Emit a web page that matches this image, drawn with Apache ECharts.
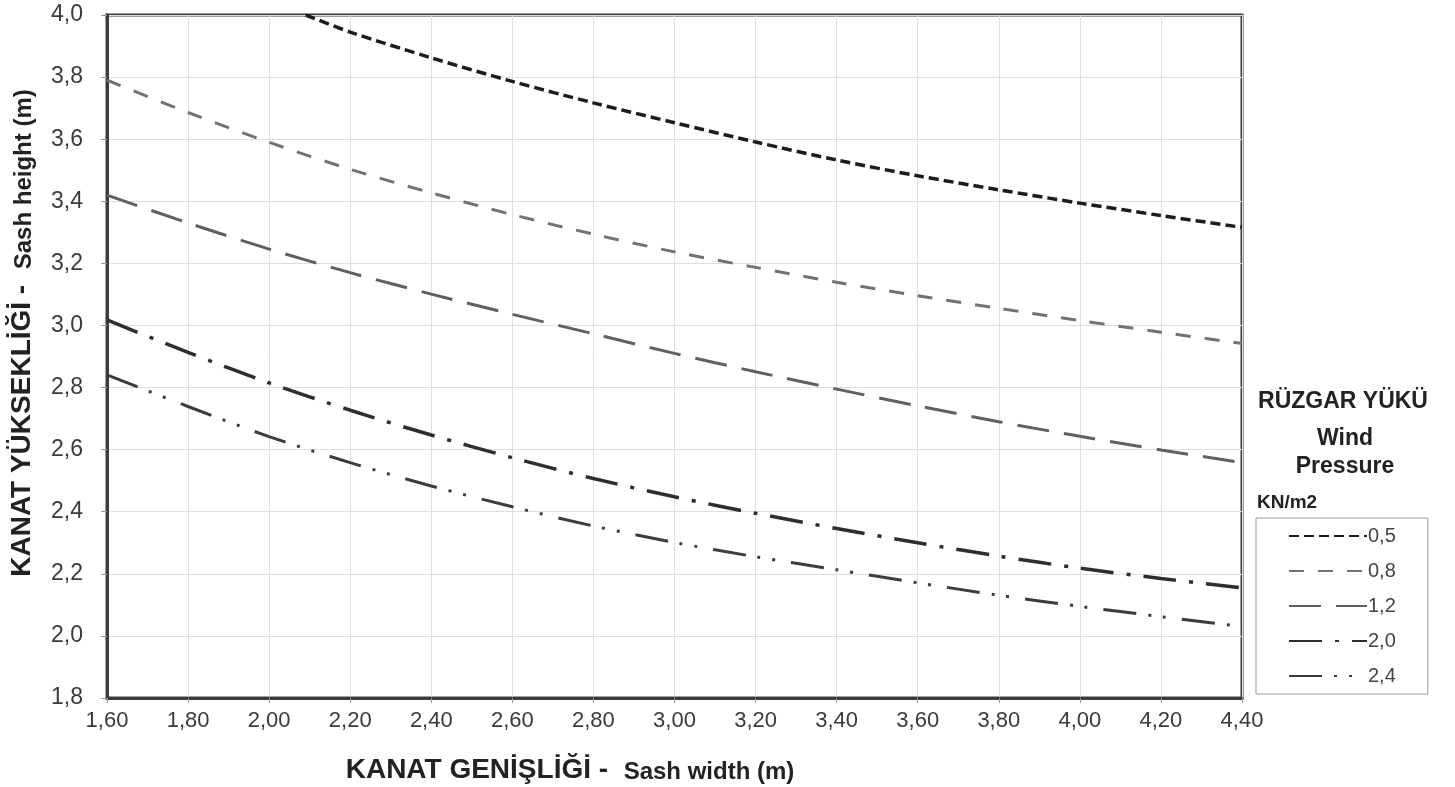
<!DOCTYPE html>
<html>
<head>
<meta charset="utf-8">
<script src="https://cdn.jsdelivr.net/npm/echarts@6/dist/echarts.min.js"></script>
<style>
  html, body { margin: 0; padding: 0; background: #fff; }
  #chart { width: 1455px; height: 787px; }
</style>
</head>
<body>
<div id="chart"></div>
<script>
// sash width (m), one point per grid line
var widths = [1.60, 1.80, 2.00, 2.20, 2.40, 2.60, 2.80, 3.00, 3.20, 3.40, 3.60, 3.80, 4.00, 4.20, 4.40];

// sash height (m) for each wind pressure
var h05Start = [2.09, 4.00];   // 0,5 curve enters the plot at the top edge
var h05 = [null, null, null, 3.945, 3.862, 3.786, 3.717, 3.653, 3.591, 3.533, 3.482, 3.437, 3.394, 3.354, 3.316];
var h08 = [3.79, 3.686, 3.590, 3.503, 3.427, 3.357, 3.294, 3.237, 3.187, 3.139, 3.096, 3.055, 3.016, 2.978, 2.942];
var h12 = [3.42, 3.330, 3.246, 3.170, 3.101, 3.036, 2.973, 2.910, 2.851, 2.795, 2.741, 2.690, 2.643, 2.599, 2.558];
var h20 = [3.018, 2.913, 2.815, 2.727, 2.647, 2.574, 2.507, 2.448, 2.395, 2.346, 2.300, 2.257, 2.218, 2.185, 2.155];
var h24 = [2.841, 2.739, 2.642, 2.558, 2.483, 2.416, 2.354, 2.301, 2.255, 2.213, 2.171, 2.131, 2.095, 2.062, 2.030];

var pressures = ['0,5', '0,8', '1,2', '2,0', '2,4'];

function pairs(xs, ys) {
    var out = [];
    for (var i = 0; i < xs.length; i++) {
        if (ys[i] != null) out.push([xs[i], ys[i]]);
    }
    return out;
}

var data05 = [h05Start].concat(pairs(widths, h05));

var font = '"Liberation Sans", Arial, sans-serif';

function comma(v, d) {
    return v.toFixed(d).replace('.', ',');
}

function lineSeries(name, data, color, width, dash) {
    return {
        name: name,
        type: 'line',
        data: data,
        smooth: 0.3,
        showSymbol: false,
        symbol: 'none',
        clip: true,
        lineStyle: { color: color, width: width, type: dash },
        itemStyle: { color: color }
    };
}

var chart = echarts.init(document.getElementById('chart'));
var option = {
    backgroundColor: '#fff',
    animation: false,
    grid: {
        left: 107, right: 213, top: 15, bottom: 89,
        show: true,
        borderColor: '#3c3c3c',
        borderWidth: 3
    },
    xAxis: {
        type: 'value',
        min: 1.6,
        max: 4.4,
        interval: 0.2,
        axisLine: { show: true, lineStyle: { color: '#3c3c3c', width: 3 } },
        axisTick: { show: true, length: 5, lineStyle: { color: '#999' } },
        axisLabel: {
            margin: 12,
            color: '#3a3a3a',
            fontSize: 22,
            fontFamily: font,
            formatter: function (v) { return comma(v, 2); }
        },
        splitLine: { show: true, lineStyle: { color: '#dedede', width: 1 } }
    },
    yAxis: {
        type: 'value',
        min: 1.8,
        max: 4.0,
        interval: 0.2,
        axisLine: { show: true, lineStyle: { color: '#3c3c3c', width: 3 } },
        axisTick: { show: true, length: 6, lineStyle: { color: '#999' } },
        axisLabel: {
            margin: 24,
            color: '#3a3a3a',
            fontSize: 23,
            fontFamily: font,
            formatter: function (v) { return comma(v, 1); }
        },
        splitLine: { show: true, lineStyle: { color: '#dedede', width: 1 } }
    },
    legend: {
        orient: 'vertical',
        left: 1256,
        top: 518,
        padding: [8, 32, 8, 32],
        itemWidth: 78,
        itemHeight: 14,
        itemGap: 15,
        borderColor: '#999',
        borderWidth: 1,
        backgroundColor: '#fff',
        itemStyle: { opacity: 0 },
        data: pressures,
        textStyle: { color: '#444', fontSize: 20, fontFamily: font, padding: [0, 0, 0, -4] }
    },
    graphic: [
        {
            type: 'text', x: 1343, y: 402,
            style: { text: 'RÜZGAR YÜKÜ', font: 'bold 23px ' + font, fill: '#222', align: 'center', verticalAlign: 'middle' }
        },
        {
            type: 'text', x: 1345, y: 439,
            style: { text: 'Wind', font: 'bold 23px ' + font, fill: '#222', align: 'center', verticalAlign: 'middle' }
        },
        {
            type: 'text', x: 1345, y: 467,
            style: { text: 'Pressure', font: 'bold 23px ' + font, fill: '#222', align: 'center', verticalAlign: 'middle' }
        },
        {
            type: 'text', x: 1257, y: 503,
            style: { text: 'KN/m2', font: 'bold 19px ' + font, fill: '#222', align: 'left', verticalAlign: 'middle' }
        },
        {
            type: 'text', x: 570, y: 770,
            style: {
                text: '{a|KANAT GENİŞLİĞİ -  }{b|Sash width (m)}',
                align: 'center', verticalAlign: 'middle',
                rich: {
                    a: { font: 'bold 28px ' + font, fill: '#222', verticalAlign: 'bottom' },
                    b: { font: 'bold 24px ' + font, fill: '#222', verticalAlign: 'bottom' }
                }
            }
        },
        {
            type: 'text', x: 22, y: 333, rotation: Math.PI / 2,
            style: {
                text: '{a|KANAT YÜKSEKLİĞİ -  }{b|Sash height (m)}',
                align: 'center', verticalAlign: 'middle',
                rich: {
                    a: { font: 'bold 28px ' + font, fill: '#222', verticalAlign: 'bottom' },
                    b: { font: 'bold 24px ' + font, fill: '#222', verticalAlign: 'bottom' }
                }
            }
        }
    ],
    series: [
        lineSeries(pressures[0], data05, '#1c1c1c', 3.5, [10, 5]),
        lineSeries(pressures[1], pairs(widths, h08), '#727272', 3, [15, 14]),
        lineSeries(pressures[2], pairs(widths, h12), '#606060', 3, [32, 15]),
        lineSeries(pressures[3], pairs(widths, h20), '#2e2e2e', 3.5, [33, 13, 4, 13]),
        lineSeries(pressures[4], pairs(widths, h24), '#3c3c3c', 3, [33, 12, 3, 12, 3, 16])
    ]
};
chart.setOption(option);
</script>
</body>
</html>
